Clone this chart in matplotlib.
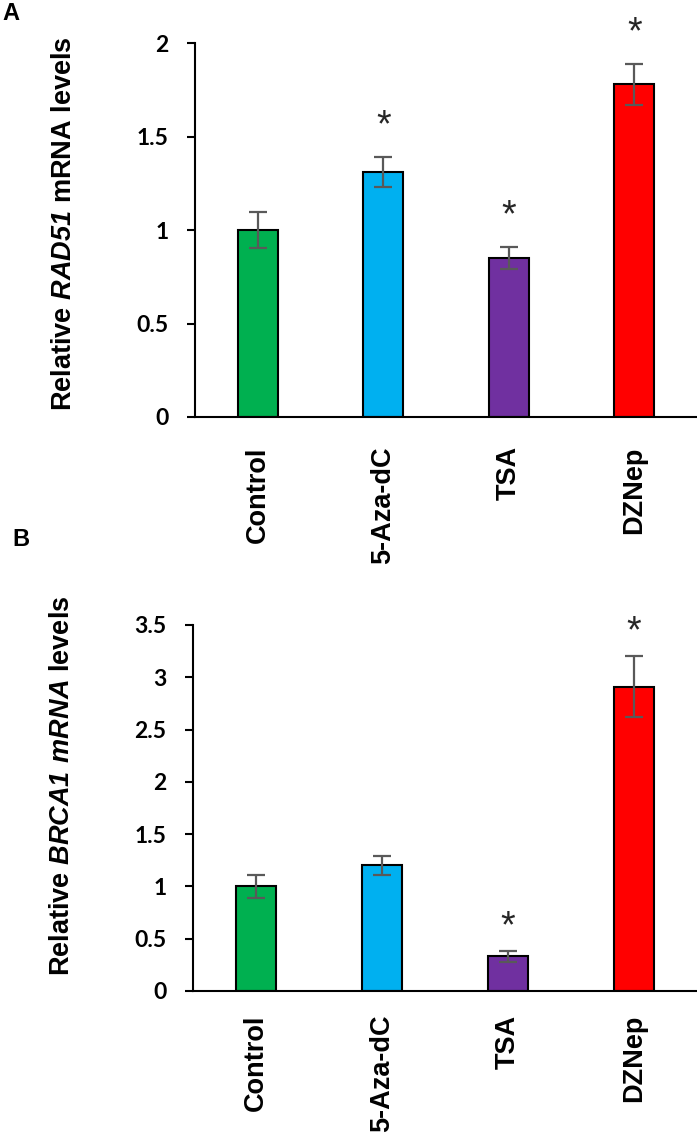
import numpy as np
import matplotlib
matplotlib.use('Agg')
import matplotlib.pyplot as plt

plt.rcParams['font.family'] = ['Liberation Sans', 'DejaVu Sans']
plt.rcParams['mathtext.fontset'] = 'custom'
plt.rcParams['mathtext.rm'] = 'Liberation Sans:bold'
plt.rcParams['mathtext.bfit'] = 'Liberation Sans:italic:bold'

# data
treatments = ['Control', '5-Aza-dC', 'TSA', 'DZNep']
colors = ['#00B050', '#00B0F0', '#7030A0', '#FF0000']

rad51 = [1.00, 1.31, 0.85, 1.78]
rad51_err = [0.095, 0.08, 0.06, 0.11]
rad51_sig = [False, True, True, True]

brca1 = [1.00, 1.20, 0.33, 2.91]
brca1_err = [0.11, 0.095, 0.05, 0.29]
brca1_sig = [False, False, True, True]


def draw_panel(ax, vals, errs, sig, ymax, ylabel, star_pt, label_y, xpad):
    x = np.arange(len(treatments))
    ax.bar(x, vals, width=0.32, color=colors, edgecolor='black', linewidth=1.5, zorder=2)
    ax.errorbar(x, vals, yerr=errs, fmt='none', ecolor='#595959',
                elinewidth=1.6, capsize=6.5, capthick=1.6, zorder=3)
    for xi, v, e, s in zip(x, vals, errs, sig):
        if s:
            ax.annotate('*', (xi, v + e), xytext=(0, star_pt), textcoords='offset points',
                        ha='center', va='center', fontsize=27, color='#262626')
    ax.set_xlim(-0.5, 3.5)
    ax.set_ylim(0, ymax)
    ticks = np.arange(0, ymax + 0.001, 0.5)
    ax.set_yticks(ticks)
    ax.set_yticklabels([f'{t:g}' for t in ticks],
                       fontfamily='Lato', fontweight='bold', fontsize=16.5)
    ax.set_xticks(x)
    ax.set_xticklabels(treatments, rotation=90, fontweight='bold', fontsize=19.5,
                       va='top', ha='center')
    ax.tick_params(axis='x', length=0, pad=xpad)
    ax.tick_params(axis='y', length=6, width=1.5, direction='out', pad=13)
    for s in ['top', 'right']:
        ax.spines[s].set_visible(False)
    ax.spines['left'].set_linewidth(1.5)
    ax.spines['bottom'].set_linewidth(1.5)
    ax.set_ylabel(ylabel, fontsize=19.5, fontweight='bold')
    ax.yaxis.set_label_coords(-0.235, label_y)


fig = plt.figure(figsize=(6.97, 11.35), dpi=100)
axA = fig.add_axes([0.2798, 0.6326, 0.7202, 0.3295])
axB = fig.add_axes([0.2769, 0.1269, 0.7231, 0.3225])

draw_panel(axA, rad51, rad51_err, rad51_sig, 2.0,
           r'Relative $\mathbfit{RAD51}$ mRNA levels', 22, 0.516, 21)
draw_panel(axB, brca1, brca1_err, brca1_sig, 3.5,
           r'Relative $\mathbfit{BRCA1\ mRNA}$ levels', 17, 0.561, 17)

fig.text(11 / 697, 1 - 13 / 1135, 'A', fontsize=17, fontweight='bold', ha='center', va='center')
fig.text(21 / 697, 1 - 540 / 1135, 'B', fontsize=17, fontweight='bold', ha='center', va='center')

fig.savefig('out.png', dpi=100)
